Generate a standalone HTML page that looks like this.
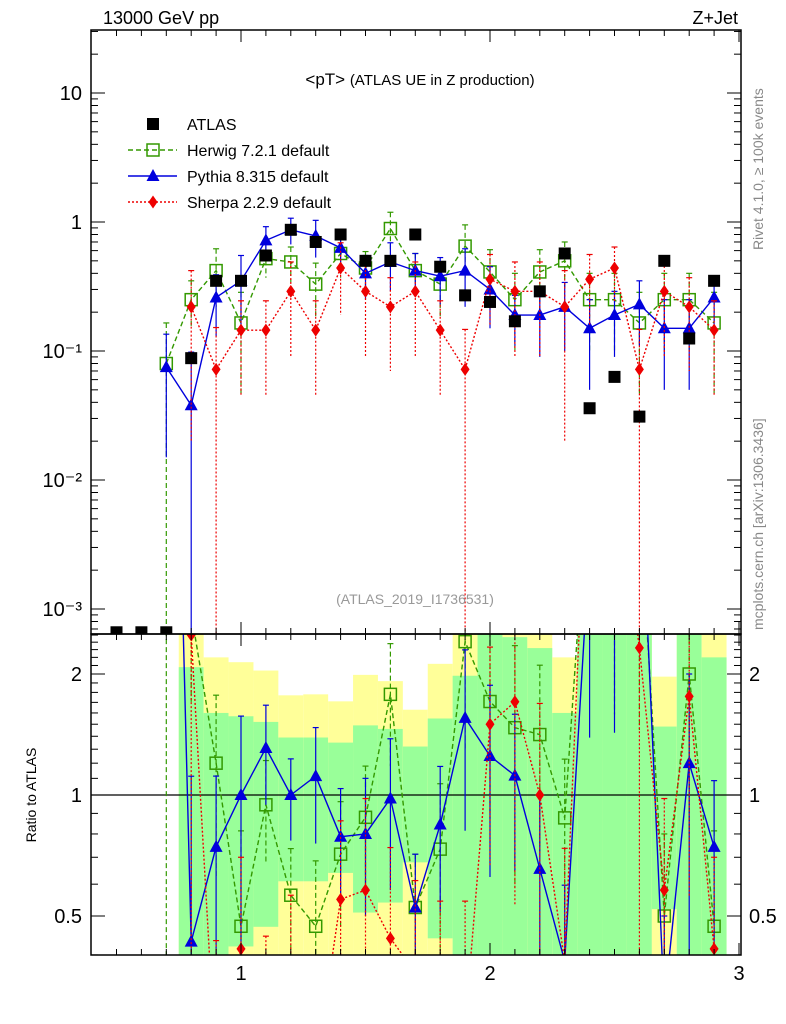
<!DOCTYPE html>
<html><head><meta charset="utf-8">
<style>
html,body{margin:0;padding:0;background:#fff;width:786px;height:1024px;overflow:hidden;}
svg{display:block;font-family:"Liberation Sans",sans-serif;}
</style></head>
<body>
<svg id="chart" width="786" height="1024" viewBox="0 0 786 1024" xmlns="http://www.w3.org/2000/svg">
<defs>
<clipPath id="cm"><rect x="91" y="30" width="650" height="604"/></clipPath>
<clipPath id="cr"><rect x="91" y="634" width="650" height="321"/></clipPath>
</defs>
<g id="bands" clip-path="url(#cr)"></g>
<g id="main" clip-path="url(#cm)"></g>
<g id="ratio" clip-path="url(#cr)"></g>
<g id="axes"></g>
<text x="103" y="24" font-size="18">13000 GeV pp</text>
<text x="738" y="24" font-size="18" text-anchor="end">Z+Jet</text>
<text x="420" y="85" font-size="17" text-anchor="middle">&lt;pT&gt; <tspan font-size="15">(ATLAS UE in Z production)</tspan></text>
<text x="415" y="604" font-size="14" fill="#999" text-anchor="middle">(ATLAS_2019_I1736531)</text>
<text transform="translate(763,250) rotate(-90)" font-size="14" fill="#888">Rivet 4.1.0, ≥ 100k events</text>
<text transform="translate(763,630) rotate(-90)" font-size="14" fill="#888">mcplots.cern.ch [arXiv:1306.3436]</text>
<text transform="translate(36,795) rotate(-90)" font-size="14" text-anchor="middle">Ratio to ATLAS</text>
<g id="legend"></g>
</svg>
<script>
const xs = [0.5,0.6,0.7,0.8,0.9,1.0,1.1,1.2,1.3,1.4,1.5,1.6,1.7,1.8,1.9,2.0,2.1,2.2,2.3,2.4,2.5,2.6,2.7,2.8,2.9];
const atlas = [0.00066,0.00066,0.00066,0.088,0.35,0.35,0.55,0.87,0.70,0.80,0.50,0.50,0.80,0.45,0.27,0.24,0.17,0.29,0.57,0.036,0.063,0.031,0.50,0.125,0.35];
const herwig = [null,null,0.08,0.25,0.42,0.165,0.52,0.49,0.33,0.57,0.44,0.89,0.42,0.33,0.65,0.41,0.25,0.41,0.50,0.25,0.25,0.165,0.25,0.25,0.165];
const herwigErr = [0,0,0.085,0.1,0.2,0.12,0.15,0.15,0.15,0.2,0.15,0.3,0.15,0.15,0.3,0.2,0.15,0.2,0.2,0.15,0.15,0.12,0.15,0.15,0.12];
const pythia = [null,null,0.075,0.038,0.26,0.35,0.72,0.87,0.78,0.63,0.40,0.49,0.42,0.38,0.42,0.30,0.19,0.19,0.22,0.15,0.19,0.23,0.15,0.15,0.26];
const pythiaErr = [0,0,0.06,0.06,0.13,0.2,0.2,0.2,0.25,0.2,0.15,0.2,0.15,0.15,0.2,0.15,0.08,0.1,0.12,0.1,0.1,0.12,0.1,0.1,0.12];
const sherpa = [null,null,null,0.22,0.072,0.145,0.145,0.29,0.145,0.44,0.29,0.22,0.29,0.145,0.072,0.36,0.29,0.29,0.22,0.36,0.44,0.072,0.29,0.22,0.145];
const sherpaErr = [0,0,0,0.2,0.08,0.1,0.1,0.2,0.1,0.25,0.2,0.15,0.2,0.1,0.075,0.2,0.2,0.2,0.2,0.2,0.2,0.075,0.2,0.15,0.1];
const bandBins = [0.8,0.9,1.0,1.1,1.2,1.3,1.4,1.5,1.6,1.7,1.8,1.9,2.0,2.1,2.2,2.3,2.4,2.5,2.6,2.7,2.8,2.9];
const yellowHi = [3,2.2,2.14,2.04,1.77,1.78,1.71,1.99,1.92,1.63,2.12,3,3,3,3,2.2,3,3,3,1.97,3,3];
const greenHi = [2.08,1.6,1.57,1.52,1.39,1.39,1.35,1.49,1.46,1.32,1.55,1.98,3,2.47,2.32,1.6,3,3,3,1.48,3,2.2];
const greenLo = [0.3,0.3,0.42,0.47,0.61,0.61,0.64,0.51,0.54,0.68,0.44,0.3,0.3,0.3,0.3,0.3,0.3,0.3,0.3,0.52,0.3,0.3];
const yellowLo = [0.3,0.3,0.3,0.3,0.3,0.3,0.3,0.3,0.3,0.3,0.3,0.3,0.3,0.3,0.3,0.3,0.3,0.3,0.3,0.3,0.3,0.3];
const mainTicks = ["10","1","10⁻¹","10⁻²","10⁻³"];
const mainTickVals = [10,1,0.1,0.01,0.001];
const ratioTicks = ["2","1","0.5"];
const ratioTickVals = [2,1,0.5];
const xTickVals = [1,2,3];

const NS="http://www.w3.org/2000/svg";
const X0=91,X1=741,MT=30,MB=634,RB=955;
const xs_ = v => 241+(v-1)*249;
const ym = v => 222-129*Math.log10(v);
const yr = v => 795-121*Math.log2(v);
function mk(p,tag,at){const e=document.createElementNS(NS,tag);for(const k in at)e.setAttribute(k,at[k]);p.appendChild(e);return e;}
const gB=document.getElementById('bands'),gM=document.getElementById('main'),gR=document.getElementById('ratio'),gA=document.getElementById('axes'),gL=document.getElementById('legend');

bandBins.forEach((b,i)=>{
  const xa=xs_(b-0.05),xb=xs_(b+0.05);
  let r=mk(gB,'rect',{x:xa,y:yr(yellowHi[i]),width:xb-xa,height:yr(yellowLo[i])-yr(yellowHi[i]),fill:'#ffff99'});
  
  
  r=mk(gB,'rect',{x:xa,y:yr(greenHi[i]),width:xb-xa,height:yr(greenLo[i])-yr(greenHi[i]),fill:'#99ff99'});
  
  
});
let l1=mk(gR,'line',{x1:X0,x2:X1,y1:yr(1),y2:yr(1),stroke:'#000','stroke-width':1.2});



const series=[
 {name:'herwig',v:herwig,e:herwigErr,c:'#339900',dash:'5,3',m:'sq'},
 {name:'pythia',v:pythia,e:pythiaErr,c:'#0000dd',dash:'',m:'tri'},
 {name:'sherpa',v:sherpa,e:sherpaErr,c:'#ee0000',dash:'2,2',m:'dia'}
];
function marker(g,type,x,y,c,nm){
  let e;
  if(type==='sq') e=mk(g,'rect',{x:x-6,y:y-6,width:12,height:12,fill:'none',stroke:c,'stroke-width':1.5});
  else if(type==='tri') e=mk(g,'polygon',{points:`${x},${y-7} ${x-6.5},${y+5} ${x+6.5},${y+5}`,fill:c});
  else if(type==='dia') e=mk(g,'polygon',{points:`${x},${y-6.5} ${x-4.5},${y} ${x},${y+6.5} ${x+4.5},${y}`,fill:c});
  else e=mk(g,'rect',{x:x-6,y:y-6,width:12,height:12,fill:c});
  
  
}
function drawSeries(g,s,fy,fv,fe,lo){
  let pts=[];
  xs.forEach((x,i)=>{const v=fv(i);if(v!=null&&v>0)pts.push([xs_(x),fy(v)]);});
  const pl=mk(g,'polyline',{points:pts.map(p=>p.join(',')).join(' '),fill:'none',stroke:s.c,'stroke-width':1.4,'stroke-dasharray':s.dash});
  
  
  xs.forEach((x,i)=>{
    const v=fv(i);if(v==null||v<=0)return;
    const er=fe(i);const px=xs_(x);
    const top=fy(v+er);const bot=(v-er)>0?fy(v-er):lo;
    const eb=mk(g,'line',{x1:px,x2:px,y1:top,y2:bot,stroke:s.c,'stroke-width':1.2,'stroke-dasharray':s.dash});
    
    
    mk(g,'line',{x1:px-3,x2:px+3,y1:top,y2:top,stroke:s.c,'stroke-width':1.2});
    marker(g,s.m,px,fy(v),s.c,s.name+'-point');
  });
}
series.forEach(s=>{
  drawSeries(gM,s,ym,i=>s.v[i],i=>s.e[i],700);
  drawSeries(gR,s,yr,i=>s.v[i]==null?null:s.v[i]/atlas[i],i=>s.e[i]/atlas[i],1000);
});
xs.forEach((x,i)=>marker(gM,'full',xs_(x),ym(atlas[i]),'#000','atlas-point'));

[[MT,MB],[MB,RB]].forEach(([a,b],k)=>{
  const r=mk(gA,'rect',{x:X0,y:a,width:X1-X0,height:b-a,fill:'none',stroke:'#000','stroke-width':1.5});
  
  
});
for(let t=5;t<=30;t++){
  const v=t/10,px=xs_(v),maj=(t%10===0);const L=maj?12:6;
  [[MT,1],[MB,-1],[MB,1],[RB,-1]].forEach(([y,d])=>mk(gA,'line',{x1:px,x2:px,y1:y,y2:y+d*L,stroke:'#000','stroke-width':1}));
}
xTickVals.forEach(v=>{const t=mk(gA,'text',{x:xs_(v),y:980,'font-size':20,'text-anchor':'middle'});t.textContent=v;
  
  });
for(let d=-4;d<=1;d++){for(let m=1;m<=9;m++){const v=m*Math.pow(10,d);const py=ym(v);if(py<MT||py>MB)continue;
  const L=m===1?14:7;mk(gA,'line',{x1:X0,x2:X0+L,y1:py,y2:py,stroke:'#000'});mk(gA,'line',{x1:X1,x2:X1-L,y1:py,y2:py,stroke:'#000'});}}
mainTickVals.forEach((v,i)=>{const t=mk(gA,'text',{x:82,y:ym(v)+7,'font-size':20,'text-anchor':'end'});t.textContent=mainTicks[i];
  
  });
[0.4,0.5,0.6,0.7,0.8,0.9,1,1.1,1.2,1.3,1.4,1.5,1.6,1.7,1.8,1.9,2,2.1,2.2,2.3,2.4,2.5].forEach(v=>{const py=yr(v);if(py<MB||py>RB)return;
  const L=(v===0.5||v===1||v===2)?14:7;mk(gA,'line',{x1:X0,x2:X0+L,y1:py,y2:py,stroke:'#000'});mk(gA,'line',{x1:X1,x2:X1-L,y1:py,y2:py,stroke:'#000'});});
ratioTickVals.forEach((v,i)=>{
  let t=mk(gA,'text',{x:82,y:yr(v)+7,'font-size':20,'text-anchor':'end'});t.textContent=ratioTicks[i];
  
  
  t=mk(gA,'text',{x:749,y:yr(v)+7,'font-size':20});t.textContent=ratioTicks[i];
  
  
});
const leg=[['ATLAS','#000','','full'],['Herwig 7.2.1 default','#339900','5,3','sq'],['Pythia 8.315 default','#0000dd','','tri'],['Sherpa 2.2.9 default','#ee0000','2,2','dia']];
leg.forEach((l,i)=>{const y=124+i*26;
  if(i>0)mk(gL,'line',{x1:128,x2:177,y1:y,y2:y,stroke:l[1],'stroke-width':1.4,'stroke-dasharray':l[2]});
  marker(gL,l[3],153,y,l[1],'legend-marker');
  const t=mk(gL,'text',{x:187,y:y+6,'font-size':16});t.textContent=l[0];
  
  
});
</script>
</body></html>
